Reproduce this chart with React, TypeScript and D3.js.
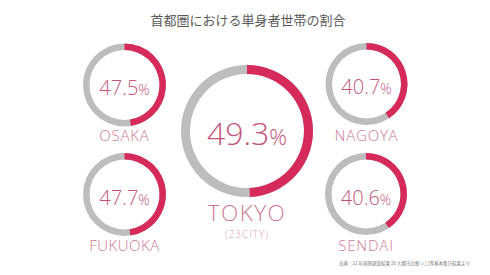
import React from "react";
import * as d3 from "d3";

const cities = ["TOKYO", "OSAKA", "NAGOYA", "FUKUOKA", "SENDAI"];
const values = [49.3, 47.5, 40.7, 47.7, 40.6];
const subLabels = ["(23CITY)", "", "", "", ""];
const title = "首都圏における単身者世帯の割合";
const source = "出典：22 年国勢調査結果 20 大都市比較 人口等基本集計結果より";

const W = 490;
const H = 275;
const RED = "#d62a5a";
const GREY = "#bdbdbd";
const TXT = "#c4547c";
const LBL = "#cf7896";

// layout per city
const layout = [
  { cx: 247, cy: 131, r: 66, t: 9, fs: 32, pfs: 22, lfs: 22.5, ly: 221, ty: 145, ls: 1.5 },
  { cx: 124.5, cy: 85, r: 41.5, t: 6.5, fs: 20, pfs: 14, lfs: 15, ly: 141, ty: 94.5, ls: 0.8 },
  { cx: 366.5, cy: 84, r: 41, t: 6.5, fs: 20, pfs: 14, lfs: 15, ly: 141, ty: 94, ls: 0.8 },
  { cx: 124.5, cy: 194.5, r: 41.5, t: 6.5, fs: 20, pfs: 14, lfs: 15, ly: 251, ty: 205, ls: 0.5 },
  { cx: 366, cy: 194, r: 41, t: 6.5, fs: 20, pfs: 14, lfs: 15, ly: 251, ty: 205, ls: 0.8 },
];

export default function App() {
  const angle = d3.scaleLinear().domain([0, 100]).range([0, 2 * Math.PI]);
  return (
    <svg width={W} height={H} style={{ position: "absolute", left: 0, top: 0, background: "#fff" }}>
      <rect width={W} height={H} fill="#fff" />
      <text x={248} y={25} textAnchor="middle" fontFamily="'Noto Sans CJK JP', sans-serif" fontSize={13} fill="#5a5a5a">
        {title}
      </text>
      {cities.map((c, i) => {
        const L = layout[i];
        const arc = d3.arc<any>().innerRadius(L.r - L.t).outerRadius(L.r);
        const full = arc({ startAngle: 0, endAngle: 2 * Math.PI }) as string;
        const part = arc({ startAngle: 0, endAngle: angle(values[i]) }) as string;
        return (
          <g key={c}>
            <g transform={`translate(${L.cx},${L.cy})`}>
              <path d={full} fill={GREY} />
              <path d={part} fill={RED} />
            </g>
            <text x={L.cx} y={L.ty} textAnchor="middle" fontFamily="'Open Sans', Lato, sans-serif" fontWeight={300} fill={TXT}>
              <tspan fontSize={L.fs}>{values[i].toFixed(1)}</tspan>
              <tspan fontSize={L.pfs}>%</tspan>
            </text>
            <text x={L.cx} y={L.ly} textAnchor="middle" fontFamily="'Open Sans', Lato, sans-serif" fontWeight={300} fontSize={L.lfs} letterSpacing={L.ls} fill={LBL}>
              {c}
            </text>
            {subLabels[i] && (
              <text x={L.cx} y={237.5} textAnchor="middle" fontFamily="'Open Sans', Lato, sans-serif" fontWeight={300} fontSize={10} letterSpacing={1} fill="#d9a0b4">
                {subLabels[i]}
              </text>
            )}
          </g>
        );
      })}
      <text x={470} y={265} textAnchor="end" fontFamily="'Noto Sans CJK JP', sans-serif" fontSize={4.5} fill="#777">
        {source}
      </text>
    </svg>
  );
}
